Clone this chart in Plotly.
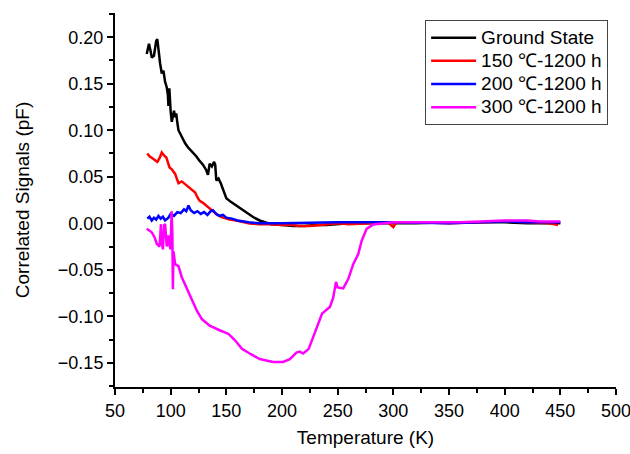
import plotly.graph_objects as go

# Ground State
gs_T = [78.5, 80.5, 82, 83, 85, 87, 88, 89, 90.5, 92, 93.5, 95, 96.5, 97.5, 98, 98.8, 99.5, 100, 101, 102, 103, 104, 105, 106,
        107, 110, 113, 116, 120, 123, 126, 129, 132, 133.5, 135, 137, 139, 140, 141, 143, 145, 147.5, 150, 154, 159, 165,
        171, 175, 180, 185, 190, 200, 210, 220, 230, 240, 250, 260, 280, 300, 320, 350, 380, 400, 420, 450]
gs_V = [0.182, 0.193, 0.185, 0.178, 0.180, 0.196, 0.198, 0.186, 0.172, 0.161, 0.164, 0.152, 0.146, 0.138, 0.126, 0.145, 0.128,
        0.120, 0.109, 0.118, 0.121, 0.114, 0.118, 0.108, 0.100, 0.093, 0.086, 0.081, 0.076, 0.072, 0.067, 0.063, 0.057, 0.052,
        0.064, 0.061, 0.066, 0.063, 0.046, 0.048, 0.043, 0.035, 0.027, 0.023, 0.019, 0.014, 0.010, 0.006, 0.003, 0.001,
        -0.001, -0.002, -0.003, -0.003, -0.002, -0.002, -0.001, 0.000, 0.000, 0.000, 0.000, 0.001, 0.001, 0.001, 0.000, 0.000]

# 150 C - 1200 h
r_T = [79, 81, 84.5, 88, 90, 92, 94, 96, 99, 101, 104, 107, 110, 112, 115, 117, 120, 122, 124, 126, 129, 132, 135, 138, 142,
       147, 153, 159, 165, 171, 180, 190, 200, 210, 215, 225, 235, 240, 250, 260, 280, 295, 300, 302, 305, 320, 350, 380,
       400, 420, 440, 448]
r_V = [0.075, 0.072, 0.069, 0.066, 0.070, 0.076, 0.073, 0.071, 0.060, 0.058, 0.053, 0.043, 0.045, 0.043, 0.040, 0.037, 0.035,
       0.033, 0.028, 0.024, 0.022, 0.019, 0.016, 0.012, 0.009, 0.006, 0.004, 0.003, 0.001, -0.0004, -0.001, -0.001, -0.002,
       -0.002, -0.003, -0.003, -0.002, -0.001, 0.000, -0.001, 0.000, 0.001, -0.004, 0.000, 0.001, 0.001, 0.000, 0.001, 0.002,
       0.001, 0.000, -0.002]

# 200 C - 1200 h
b_T = [79, 81, 83, 85, 87, 89, 91, 93, 95, 98, 100, 103, 106, 109, 112, 114, 116, 118, 121, 124, 127, 130, 133, 136, 138,
       141, 144, 147, 150, 155, 160, 165, 170, 180, 200, 250, 300, 350, 380, 400, 420, 450]
b_V = [0.005, 0.007, 0.003, 0.006, 0.004, 0.008, 0.005, 0.007, 0.003, 0.006, 0.010, 0.008, 0.012, 0.011, 0.015, 0.013, 0.019,
       0.014, 0.011, 0.013, 0.010, 0.012, 0.009, 0.013, 0.014, 0.010, 0.008, 0.009, 0.006, 0.005, 0.003, 0.002, 0.001, 0.000,
       0.000, 0.001, 0.001, 0.000, 0.001, 0.002, 0.001, 0.001]

# 300 C - 1200 h
m_T = [78.5, 81, 83, 85.5, 87.5, 90, 91.3, 92, 93, 94.2, 95, 96.5, 98, 99, 100, 100.8, 101.5, 102, 102.5, 104, 107, 110, 114,
       119, 123.5, 128, 135, 144, 152, 158, 164, 171, 180, 192, 201, 207, 213, 216, 219, 224, 230, 236, 243, 246, 248.5, 250,
       255, 259.5, 264, 268.5, 271.5, 276, 282, 290, 300, 330, 360, 378, 400, 420, 432, 450]
m_V = [-0.006, -0.008, -0.0097, -0.015, -0.022, -0.025, -0.001, -0.020, -0.028, -0.002, -0.0007, -0.025, -0.013, -0.024,
       -0.028, 0.013, -0.010, -0.071, -0.030, -0.044, -0.046, -0.058, -0.069, -0.083, -0.094, -0.103, -0.110, -0.115, -0.119,
       -0.126, -0.135, -0.140, -0.146, -0.149, -0.149, -0.146, -0.139, -0.138, -0.140, -0.135, -0.117, -0.097, -0.090, -0.080,
       -0.063, -0.069, -0.070, -0.060, -0.044, -0.033, -0.019, -0.006, -0.0014, 0.000, 0.001, 0.001, 0.001, 0.002, 0.003, 0.003,
       0.002, 0.002]

names = ["Ground State", "150 \u2103-1200 h", "200 \u2103-1200 h", "300 \u2103-1200 h"]
colors = ["#000000", "#ff0000", "#0000ff", "#ff00ff"]
series = [(gs_T, gs_V), (r_T, r_V), (b_T, b_V), (m_T, m_V)]

FONT = "'Liberation Sans', Arial, sans-serif"

fig = go.Figure()
for (t, v), n, c in zip(series, names, colors):
    fig.add_trace(go.Scatter(x=t, y=v, mode="lines",
                             name="<span style='font-size:19px'>" + n + "</span>",
                             line=dict(color=c, width=2.5)))

axis_common = dict(
    showline=True, linecolor="black", linewidth=2, mirror=False,
    ticks="outside", ticklen=6, tickwidth=2, tickcolor="black",
    showgrid=False, zeroline=False, automargin=False, ticklabeloverflow="allow",
    tickfont=dict(family=FONT, size=18, color="black"),
)

fig.update_layout(
    width=630, height=454,
    margin=dict(l=115, r=14, t=13, b=67),
    paper_bgcolor="white", plot_bgcolor="white",
    font=dict(family=FONT, color="black"),
    xaxis=dict(range=[50, 500], tickvals=[50, 100, 150, 200, 250, 300, 350, 400, 450, 500],
               minor=dict(ticks="outside", ticklen=4, tickwidth=2, tickcolor="black", dtick=25, tick0=50),
               title=dict(text="Temperature (K)", font=dict(family=FONT, size=19), standoff=11),
               **axis_common),
    yaxis=dict(range=[-0.176, 0.226], tickvals=[-0.15, -0.10, -0.05, 0.0, 0.05, 0.10, 0.15, 0.20],
               tickformat=".2f",
               minor=dict(ticks="outside", ticklen=4, tickwidth=2, tickcolor="black", dtick=0.025, tick0=0),
               title=dict(text="Correlated Signals (pF)", font=dict(family=FONT, size=19), standoff=23),
               **axis_common),
    legend=dict(x=0.619, y=0.981, xanchor="left", yanchor="top",
                bgcolor="white", bordercolor="#444444", borderwidth=1,
                font=dict(family=FONT, size=15.5, color="black"),
                tracegroupgap=0, itemwidth=45),
    showlegend=True,
)

fig.write_html("out.html", config={"displayModeBar": False},
               post_script="document.body.style.margin='0';")
